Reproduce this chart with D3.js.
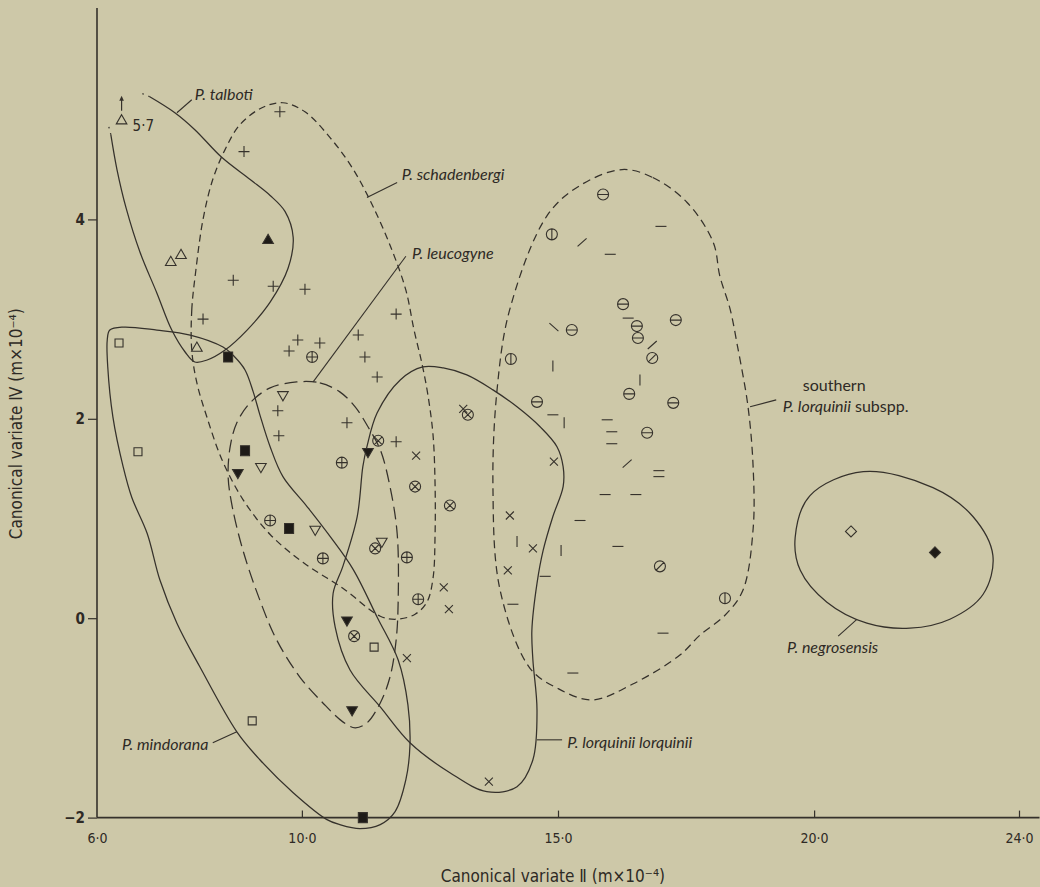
<!DOCTYPE html>
<html><head><meta charset="utf-8">
<script src="https://cdn.jsdelivr.net/npm/d3@7"></script>
<style>
html,body{margin:0;padding:0;background:#cdc8a8;}
svg{display:block;}
.sp{font-family:Lato,"Open Sans",sans-serif;font-style:italic;font-size:16px;fill:#2e2a25;}
.ax{font-family:"DejaVu Sans Condensed","Liberation Sans Narrow",Roboto,sans-serif;font-size:14px;fill:#2e2a25;}
</style></head>
<body><svg id="c" width="1040" height="887"></svg>
<script>
// ---------- data (canonical variate II, canonical variate IV) ----------
const xTicks = [6, 10, 15, 20, 24];
const yTicks = [-2, 0, 2, 4];

const talbotiOpen = [[6.48,5.0],[7.44,3.58],[7.64,3.65],[7.95,2.72]];
const talbotiFilled = [[9.34,3.80]];
const schadenbergiPts = [[9.57,5.08],[8.87,4.68],[8.66,3.39],[9.44,3.33],[10.06,3.30],[8.07,3.00],[11.84,3.05],[11.10,2.84],[9.92,2.79],[9.75,2.68],[10.35,2.76],[11.23,2.62],[11.47,2.42],[9.53,2.08],[9.55,1.83],[10.88,1.96],[11.84,1.77]];
const leucogyneOpen = [[9.63,2.23],[9.20,1.51],[10.26,0.88],[11.56,0.76]];
const leucogyneFilled = [[11.29,1.66],[8.75,1.45],[10.88,-0.03],[10.98,-0.93]];
const mindoranaOpen = [[6.43,2.76],[6.80,1.67],[9.03,-1.03],[11.41,-0.29]];
const mindoranaFilled = [[8.56,2.62],[8.89,1.68],[9.75,0.90],[11.19,-2.0]];
const circlePlusPts = [[10.20,2.62],[10.78,1.56],[9.38,0.98],[10.41,0.60],[12.05,0.61],[12.27,0.19]];
const circleCrossPts = [[11.49,1.78],[12.21,1.32],[12.89,1.13],[13.24,2.04],[11.43,0.70],[11.02,-0.18]];
const lorquiniiPts = [[13.15,2.10],[12.23,1.63],[14.92,1.57],[14.06,1.03],[14.51,0.70],[14.02,0.48],[12.77,0.31],[12.87,0.09],[12.05,-0.40],[13.65,-1.64]];
const southernCircH = [[15.88,4.25],[16.27,3.15],[16.54,2.93],[16.56,2.81],[17.30,2.99],[15.27,2.89],[16.39,2.25],[17.25,2.16],[14.59,2.17],[16.74,1.86]];
const southernCircV = [[14.88,3.85],[14.08,2.60],[18.26,0.20]];
const southernCircD = [[16.84,2.61],[16.99,0.52]];
const southernDashH = [[16.02,3.65],[17.01,3.93],[16.37,3.01],[14.90,2.04],[15.96,1.99],[16.05,1.87],[16.05,1.75],[15.92,1.24],[16.52,1.24],[15.43,0.98],[16.17,0.72],[14.75,0.42],[14.12,0.14],[17.05,-0.15],[15.29,-0.55],[16.97,1.48],[16.97,1.42]];
const southernDashV = [[14.90,2.53],[16.60,2.39],[15.12,1.96],[14.20,0.77],[15.06,0.68]];
const southernSlash = [[15.47,3.77],[16.84,2.74],[16.35,1.55]];
const southernBackslash = [[14.92,2.92]];
const negrosOpen = [[20.72,0.87]];
const negrosFilled = [[22.36,0.66]];

// contours (hand-drawn envelopes), in data units
const talbotiContour = [[6.27,4.85],[6.39,4.50],[6.57,4.11],[6.84,3.67],[7.17,3.26],[7.46,2.89],[7.72,2.67],[7.91,2.57],[8.15,2.59],[8.50,2.69],[8.93,2.89],[9.38,3.17],[9.73,3.51],[9.83,3.82],[9.67,4.08],[9.38,4.24],[8.99,4.40],[8.44,4.62],[7.91,4.90],[7.52,5.07],[7.03,5.23]];
const talbotiDotsA = [[7.03,5.23],[6.80,5.28]];
const talbotiDotsB = [[6.27,4.85],[6.21,4.97]];
const schadenbergiContour = [[7.85,2.69],[7.85,3.09],[7.93,3.49],[8.07,4.00],[8.26,4.40],[8.50,4.70],[8.79,4.95],[9.22,5.12],[9.63,5.17],[10.06,5.08],[10.55,4.82],[10.98,4.52],[11.37,4.15],[11.76,3.69],[12.03,3.29],[12.19,2.89],[12.35,2.54],[12.46,2.24],[12.56,1.84],[12.60,1.34],[12.60,0.84],[12.56,0.40],[12.44,0.16],[12.21,0.04],[11.86,-0.01],[11.53,0.02],[10.80,0.30],[10.02,0.56],[9.38,0.84],[8.85,1.19],[8.44,1.59],[8.15,2.01],[7.95,2.36]];
const leucogyneContour = [[9.90,2.37],[10.35,2.36],[10.74,2.27],[11.04,2.12],[11.29,1.92],[11.53,1.69],[11.72,1.32],[11.86,0.85],[11.88,0.18],[11.84,-0.22],[11.72,-0.59],[11.53,-0.85],[11.27,-1.05],[11.04,-1.10],[10.80,-1.04],[10.41,-0.85],[9.96,-0.59],[9.51,-0.22],[9.18,0.18],[8.85,0.68],[8.64,1.12],[8.56,1.42],[8.60,1.72],[8.73,1.96],[8.99,2.16],[9.38,2.31]];
const mindoranaContour = [[6.25,2.89],[6.51,2.92],[7.17,2.89],[7.82,2.84],[8.46,2.72],[8.69,2.62],[8.89,2.49],[9.05,2.27],[9.18,2.04],[9.38,1.72],[9.63,1.42],[10.10,1.12],[10.55,0.82],[11.00,0.49],[11.47,0.01],[11.88,-0.42],[12.07,-0.87],[12.11,-1.27],[12.03,-1.62],[11.82,-1.94],[11.53,-2.07],[11.13,-2.11],[10.74,-2.07],[10.49,-2.02],[9.83,-1.75],[9.18,-1.42],[8.73,-1.14],[8.01,-0.49],[7.56,-0.05],[7.23,0.38],[6.98,0.85],[6.68,1.21],[6.51,1.52],[6.31,2.02],[6.21,2.52],[6.20,2.79]];
const lorquiniiContour = [[12.36,2.52],[12.76,2.51],[13.22,2.44],[13.73,2.29],[14.20,2.12],[14.65,1.92],[14.98,1.72],[15.10,1.52],[15.10,1.32],[14.90,1.02],[14.71,0.68],[14.59,0.35],[14.49,-0.12],[14.51,-0.42],[14.59,-0.92],[14.51,-1.42],[14.20,-1.69],[13.61,-1.74],[12.89,-1.55],[12.11,-1.25],[11.53,-0.89],[10.94,-0.52],[10.65,-0.09],[10.61,0.25],[10.80,0.52],[11.08,1.02],[11.19,1.52],[11.27,1.72],[11.47,2.06],[11.92,2.39]];
const southernContour = [[16.25,4.50],[16.85,4.42],[17.52,4.17],[18.03,3.77],[18.16,3.43],[18.36,3.10],[18.50,2.74],[18.71,2.12],[18.81,1.51],[18.81,0.90],[18.61,0.28],[18.26,0.03],[17.77,-0.17],[17.38,-0.37],[16.46,-0.66],[15.66,-0.82],[14.98,-0.70],[14.45,-0.50],[13.87,0.28],[13.73,1.31],[13.81,2.29],[14.06,3.10],[14.79,4.04],[15.43,4.34]];
const negrosContour = [[19.63,0.81],[19.92,1.23],[20.96,1.47],[22.32,1.31],[23.10,1.02],[23.49,0.63],[23.30,0.24],[22.65,-0.01],[21.87,-0.10],[21.03,-0.05],[20.25,0.16],[19.73,0.48]];

// labels: text parts (italic flag), anchor, leader
const speciesLabels = [
  {parts:[["P. talboti",true]], at:[7.91,5.25], leader:[[7.56,5.07],[7.85,5.20]]},
  {parts:[["P. schadenbergi",true]], at:[11.95,4.45], leader:[[11.27,4.22],[11.86,4.37]]},
  {parts:[["P. leucogyne",true]], at:[12.15,3.66], leader:[[10.22,2.37],[12.03,3.63]]},
  {parts:[["southern",false]], at:[19.78,2.33], leader:null},
  {parts:[["P. lorquinii",true],[" subspp.",false]], at:[19.39,2.12], leader:[[18.75,2.12],[19.26,2.19]]},
  {parts:[["P. negrosensis",true]], at:[19.47,-0.29], leader:[[20.84,-0.01],[20.47,-0.18]]},
  {parts:[["P. mindorana",true]], at:[6.49,-1.27], leader:[[8.26,-1.25],[8.73,-1.14]]},
  {parts:[["P. lorquinii lorquinii",true]], at:[15.18,-1.25], leader:[[14.59,-1.22],[15.08,-1.22]]}
];

// ---------- drawing ----------
const INK = '#35312b';
const svg = d3.select('#c');
const x = d3.scaleLinear().domain([6,24]).range([97,1019]);
const y = d3.scaleLinear().domain([-2,4]).range([817.6,219.4]);

// axes
const gx = svg.append('g').attr('transform',`translate(0,${y(-2)})`)
  .call(d3.axisBottom(x).tickValues(xTicks).tickSize(-7).tickPadding(15)
    .tickFormat(d => d.toFixed(1).replace('.', '·')));
gx.select('.domain').remove();
gx.selectAll('line').attr('stroke',INK).attr('stroke-width',1.2);
gx.selectAll('text').attr('class','ax').attr('fill','#2e2a25').style('font-size','14px');
gx.selectAll('.tick').filter(d => d===6).select('line').remove();

const gy = svg.append('g').attr('transform',`translate(${x(6)},0)`)
  .call(d3.axisLeft(y).tickValues(yTicks).tickSize(9).tickPadding(3)
    .tickFormat(d => d < 0 ? '−' + Math.abs(d) : String(d)));
gy.select('.domain').remove();
gy.selectAll('line').attr('stroke',INK).attr('stroke-width',1.2);
gy.selectAll('text').attr('class','ax').attr('fill','#2e2a25').style('font-size','15px').style('font-weight','bold');

svg.append('line').attr('x1',x(6)).attr('x2',x(24.4)).attr('y1',y(-2)).attr('y2',y(-2))
  .attr('stroke',INK).attr('stroke-width',1.6);
svg.append('line').attr('x1',x(6)).attr('x2',x(6)).attr('y1',y(-2)).attr('y2',y(6.12))
  .attr('stroke',INK).attr('stroke-width',1.6);

svg.append('text').attr('class','ax').style('font-size','17px').attr('x',x(14.9)).attr('y',y(-2)+64)
  .attr('text-anchor','middle').text('Canonical variate Ⅱ (m×10⁻⁴)');
svg.append('text').attr('class','ax').style('font-size','17px')
  .attr('transform',`translate(${x(6)-75},${y(1.95)}) rotate(-90)`)
  .attr('text-anchor','middle').text('Canonical variate Ⅳ (m×10⁻⁴)');

// contours
const closed = d3.line().x(d=>x(d[0])).y(d=>y(d[1])).curve(d3.curveCatmullRomClosed.alpha(0.5));
const open = d3.line().x(d=>x(d[0])).y(d=>y(d[1])).curve(d3.curveCatmullRom.alpha(0.5));
const straight = d3.line().x(d=>x(d[0])).y(d=>y(d[1]));
const cg = svg.append('g').attr('fill','none').attr('stroke',INK).attr('stroke-width',1.25);
cg.append('path').attr('d',open(talbotiContour));
cg.append('path').attr('d',straight(talbotiDotsA)).attr('stroke-dasharray','1.5,5');
cg.append('path').attr('d',straight(talbotiDotsB)).attr('stroke-dasharray','1.5,5');
cg.append('path').attr('d',closed(schadenbergiContour)).attr('stroke-dasharray','7,4.5');
cg.append('path').attr('d',closed(leucogyneContour)).attr('stroke-dasharray','13,6');
cg.append('path').attr('d',closed(mindoranaContour));
cg.append('path').attr('d',closed(lorquiniiContour));
cg.append('path').attr('d',closed(southernContour)).attr('stroke-dasharray','8,5');
cg.append('path').attr('d',closed(negrosContour));

// symbols
const C = 'M-5.5,0A5.5,5.5 0 1,0 5.5,0A5.5,5.5 0 1,0 -5.5,0';
const SYM = {
  triUp:   {d:'M0,-5L5.3,4.2L-5.3,4.2Z', fill:false},
  triUpF:  {d:'M0,-5L5.3,4.2L-5.3,4.2Z', fill:true},
  triDown: {d:'M-5.3,-4.2L5.3,-4.2L0,5Z', fill:false},
  triDownF:{d:'M-5.3,-4.2L5.3,-4.2L0,5Z', fill:true},
  sq:      {d:'M-4,-4H4V4H-4Z', fill:false},
  sqF:     {d:'M-4.5,-5H4.5V5H-4.5Z', fill:true},
  plus:    {d:'M-5.5,0H5.5M0,-5.5V5.5', fill:false},
  cross:   {d:'M-4,-4L4,4M-4,4L4,-4', fill:false},
  circPlus:{d:C+'M-5.5,0H5.5M0,-5.5V5.5', fill:false},
  circX:   {d:C+'M-3.9,-3.9L3.9,3.9M-3.9,3.9L3.9,-3.9', fill:false},
  circH:   {d:C+'M-5.5,0H5.5', fill:false},
  circV:   {d:C+'M0,-5.5V5.5', fill:false},
  circD:   {d:C+'M-3.9,3.9L3.9,-3.9', fill:false},
  dashH:   {d:'M-5.5,0H5.5', fill:false},
  dashV:   {d:'M0,-5.5V5.5', fill:false},
  slash:   {d:'M-4.5,4L4.5,-4', fill:false},
  bslash:  {d:'M-4.5,-4L4.5,4', fill:false},
  diamond: {d:'M0,-5.5L5.5,0L0,5.5L-5.5,0Z', fill:false},
  diamondF:{d:'M0,-5.5L5.5,0L0,5.5L-5.5,0Z', fill:true}
};
const series = [
  [talbotiOpen,'triUp'],[talbotiFilled,'triUpF'],[schadenbergiPts,'plus'],
  [leucogyneOpen,'triDown'],[leucogyneFilled,'triDownF'],
  [mindoranaOpen,'sq'],[mindoranaFilled,'sqF'],
  [circlePlusPts,'circPlus'],[circleCrossPts,'circX'],[lorquiniiPts,'cross'],
  [southernCircH,'circH'],[southernCircV,'circV'],[southernCircD,'circD'],
  [southernDashH,'dashH'],[southernDashV,'dashV'],[southernSlash,'slash'],[southernBackslash,'bslash'],
  [negrosOpen,'diamond'],[negrosFilled,'diamondF']
];
const mg = svg.append('g');
series.forEach(([pts,type]) => {
  const s = SYM[type];
  mg.selectAll(null).data(pts).enter().append('path')
    .attr('transform', d => `translate(${x(d[0])},${y(d[1])})`)
    .attr('d', s.d)
    .attr('fill', s.fill ? '#1e1b17' : 'none')
    .attr('stroke', INK).attr('stroke-width', 1.1);
});

// off-scale arrow for the 5.7 talboti point
const arrowX = talbotiOpen[0][0];
svg.append('line').attr('x1',x(arrowX)).attr('x2',x(arrowX)).attr('y1',y(5.09)).attr('y2',y(5.2))
  .attr('stroke',INK).attr('stroke-width',1.2);
svg.append('path').attr('transform',`translate(${x(arrowX)},${y(5.22)})`)
  .attr('d','M0,-2L2.3,3L-2.3,3Z').attr('fill',INK);
svg.append('text').attr('class','ax').attr('x',x(arrowX)+11).attr('y',y(5.0)+11)
  .style('font-size','15px').text('5·7');

// species labels with leaders
speciesLabels.forEach(l => {
  const t = svg.append('text').attr('class','sp').attr('x',x(l.at[0])).attr('y',y(l.at[1])).attr('dy','0.35em');
  l.parts.forEach(([txt,it]) => t.append('tspan').style('font-style', it ? 'italic' : 'normal').text(txt));
  if (l.leader) svg.append('path').attr('d',straight(l.leader)).attr('stroke',INK).attr('stroke-width',1.1).attr('fill','none');
});
</script></body></html>
